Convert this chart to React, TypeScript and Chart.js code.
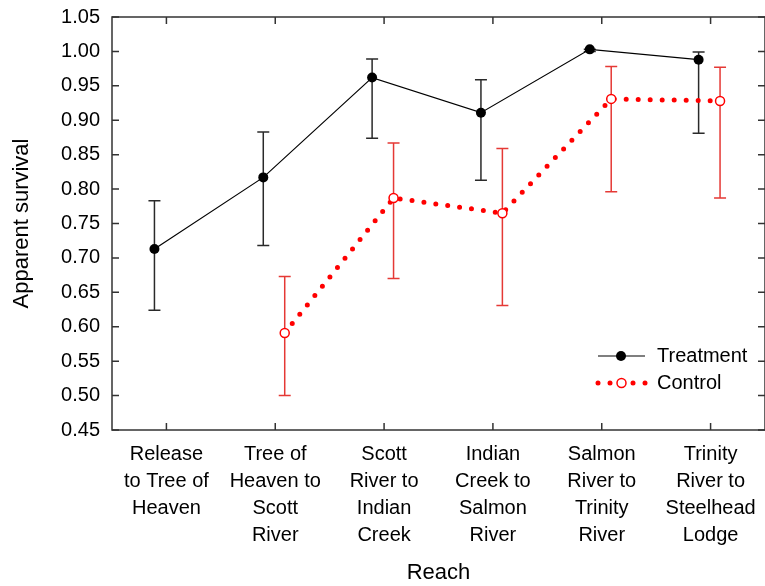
import React, { useEffect, useRef } from "react";
import { Chart, registerables } from "chart.js";
Chart.register(...registerables);

const categories: string[][] = [
  ["Release", "to Tree of", "Heaven"],
  ["Tree of", "Heaven to", "Scott", "River"],
  ["Scott", "River to", "Indian", "Creek"],
  ["Indian", "Creek to", "Salmon", "River"],
  ["Salmon", "River to", "Trinity", "River"],
  ["Trinity", "River to", "Steelhead", "Lodge"],
];
const yTicks = [0.45, 0.5, 0.55, 0.6, 0.65, 0.7, 0.75, 0.8, 0.85, 0.9, 0.95, 1.0, 1.05];

const treatment = [0.713, 0.817, 0.962, 0.911, 1.003, 0.988];
const treatmentUpper = [0.783, 0.883, 0.989, 0.959, 1.003, 0.999];
const treatmentLower = [0.624, 0.718, 0.874, 0.813, 1.0, 0.881];

const control: (number | null)[] = [null, 0.591, 0.787, 0.765, 0.931, 0.928];
const controlUpper: (number | null)[] = [null, 0.673, 0.867, 0.859, 0.978, 0.977];
const controlLower: (number | null)[] = [null, 0.5, 0.67, 0.631, 0.796, 0.787];

const TREAT_OFFSET = -0.11;
const CTRL_OFFSET = 0.087;
const FONT = "'Liberation Sans', Arial, sans-serif";

const errorBarPlugin = {
  id: "errorBars",
  beforeDatasetsDraw(chart: any) {
    const { ctx } = chart;
    const xs = chart.scales.x;
    const ys = chart.scales.y;
    const draw = (vals: any[], up: any[], lo: any[], off: number, color: string) => {
      ctx.save();
      ctx.strokeStyle = color;
      ctx.lineWidth = 1.5;
      vals.forEach((v, i) => {
        if (v == null || up[i] == null || lo[i] == null) return;
        const x = xs.getPixelForValue(i + off);
        const yt = ys.getPixelForValue(up[i]);
        const yb = ys.getPixelForValue(lo[i]);
        ctx.beginPath();
        ctx.moveTo(x, yt);
        ctx.lineTo(x, yb);
        ctx.moveTo(x - 6, yt);
        ctx.lineTo(x + 6, yt);
        ctx.moveTo(x - 6, yb);
        ctx.lineTo(x + 6, yb);
        ctx.stroke();
      });
      ctx.restore();
    };
    draw(treatment, treatmentUpper, treatmentLower, TREAT_OFFSET, "#2a2a2a");
    draw(control, controlUpper, controlLower, CTRL_OFFSET, "#e53935");
  },
};

const framePlugin = {
  id: "frame",
  afterDraw(chart: any) {
    const { ctx, chartArea } = chart;
    const { left, right, top, bottom } = chartArea;
    const xs = chart.scales.x;
    const ys = chart.scales.y;
    ctx.save();
    ctx.strokeStyle = "#333";
    ctx.lineWidth = 1.5;
    ctx.strokeRect(left, top, right - left, bottom - top);
    ctx.beginPath();
    const L = 7;
    yTicks.forEach((t) => {
      const y = ys.getPixelForValue(t);
      ctx.moveTo(left, y);
      ctx.lineTo(left + L, y);
      ctx.moveTo(right, y);
      ctx.lineTo(right - L, y);
    });
    categories.forEach((_, i) => {
      const x = xs.getPixelForValue(i);
      ctx.moveTo(x, bottom);
      ctx.lineTo(x, bottom - L);
      ctx.moveTo(x, top);
      ctx.lineTo(x, top + L);
    });
    ctx.stroke();

    // legend
    const lx = right - 167;
    const ly1 = bottom - 74;
    const ly2 = bottom - 47;
    ctx.strokeStyle = "#000";
    ctx.lineWidth = 1.2;
    ctx.beginPath();
    ctx.moveTo(lx, ly1);
    ctx.lineTo(lx + 47, ly1);
    ctx.stroke();
    ctx.fillStyle = "#000";
    ctx.beginPath();
    ctx.arc(lx + 23, ly1, 5, 0, Math.PI * 2);
    ctx.fill();
    ctx.fillStyle = "#ff0000";
    [0, 12, 35, 47].forEach((dx) => {
      ctx.beginPath();
      ctx.arc(lx + dx, ly2, 2.5, 0, Math.PI * 2);
      ctx.fill();
    });
    ctx.beginPath();
    ctx.arc(lx + 23.5, ly2, 4.5, 0, Math.PI * 2);
    ctx.fillStyle = "#fff";
    ctx.fill();
    ctx.strokeStyle = "#ff0000";
    ctx.lineWidth = 1.5;
    ctx.stroke();
    ctx.fillStyle = "#000";
    ctx.font = `20px ${FONT}`;
    ctx.textBaseline = "middle";
    ctx.textAlign = "left";
    ctx.fillText("Treatment", lx + 59, ly1);
    ctx.fillText("Control", lx + 59, ly2);
    ctx.restore();
  },
};

export default function App() {
  const ref = useRef<HTMLCanvasElement>(null);
  useEffect(() => {
    if (!ref.current) return;
    const chart = new Chart(ref.current, {
      type: "line",
      data: {
        datasets: [
          {
            label: "Treatment",
            data: treatment.map((v, i) => ({ x: i + TREAT_OFFSET, y: v })),
            borderColor: "#000",
            borderWidth: 1.2,
            pointBackgroundColor: "#000",
            pointBorderColor: "#000",
            pointRadius: 5,
            pointBorderWidth: 0,
            fill: false,
            tension: 0,
          },
          {
            label: "Control",
            data: control
              .map((v, i) => (v == null ? null : { x: i + CTRL_OFFSET, y: v }))
              .filter((p) => p !== null) as any,
            borderColor: "#ff0000",
            borderWidth: 5,
            borderDash: [0, 12],
            borderCapStyle: "round",
            pointBackgroundColor: "#fff",
            pointBorderColor: "#ff0000",
            pointBorderWidth: 1.5,
            pointRadius: 4.5,
            fill: false,
            tension: 0,
          },
        ],
      },
      options: {
        animation: false,
        responsive: false,
        maintainAspectRatio: false,
        layout: { autoPadding: false, padding: { top: 17, right: 0, left: 0, bottom: 0 } },
        plugins: { legend: { display: false }, tooltip: { enabled: false } },
        scales: {
          x: {
            type: "linear",
            min: -0.5,
            max: 5.5,
            afterBuildTicks: (axis: any) => {
              axis.ticks = categories.map((_, i) => ({ value: i }));
            },
            afterFit: (axis: any) => {
              axis.height = 156;
              axis.paddingLeft = 0;
              axis.paddingRight = 0;
            },
            grid: { display: false, drawTicks: false },
            border: { display: false },
            ticks: {
              autoSkip: false,
              maxRotation: 0,
              padding: 11,
              color: "#000",
              font: { family: FONT, size: 20, lineHeight: 1.35 },
              callback: (v: any) => categories[Math.round(v)] ?? "",
            },
            title: {
              display: true,
              text: "Reach",
              color: "#000",
              font: { family: FONT, size: 22 },
              padding: { top: 0, bottom: 0 },
            },
          },
          y: {
            min: 0.45,
            max: 1.05,
            afterBuildTicks: (axis: any) => {
              axis.ticks = yTicks.map((v) => ({ value: v }));
            },
            afterFit: (axis: any) => {
              axis.width = 112;
              axis.paddingTop = 0;
              axis.paddingBottom = 0;
            },
            grid: { display: false, drawTicks: false },
            border: { display: false },
            ticks: {
              padding: 12,
              color: "#000",
              font: { family: FONT, size: 20 },
              callback: (v: any) => Number(v).toFixed(2),
            },
            title: {
              display: true,
              text: "Apparent survival",
              color: "#000",
              font: { family: FONT, size: 22 },
              padding: { top: 9, bottom: 0 },
            },
          },
        },
      },
      plugins: [errorBarPlugin, framePlugin],
    });
    return () => chart.destroy();
  }, []);
  return (
    <div style={{ position: "absolute", left: 0, top: 0, width: 765, height: 586, background: "#fff" }}>
      <canvas ref={ref} width={765} height={586} style={{ width: 765, height: 586 }} />
    </div>
  );
}
